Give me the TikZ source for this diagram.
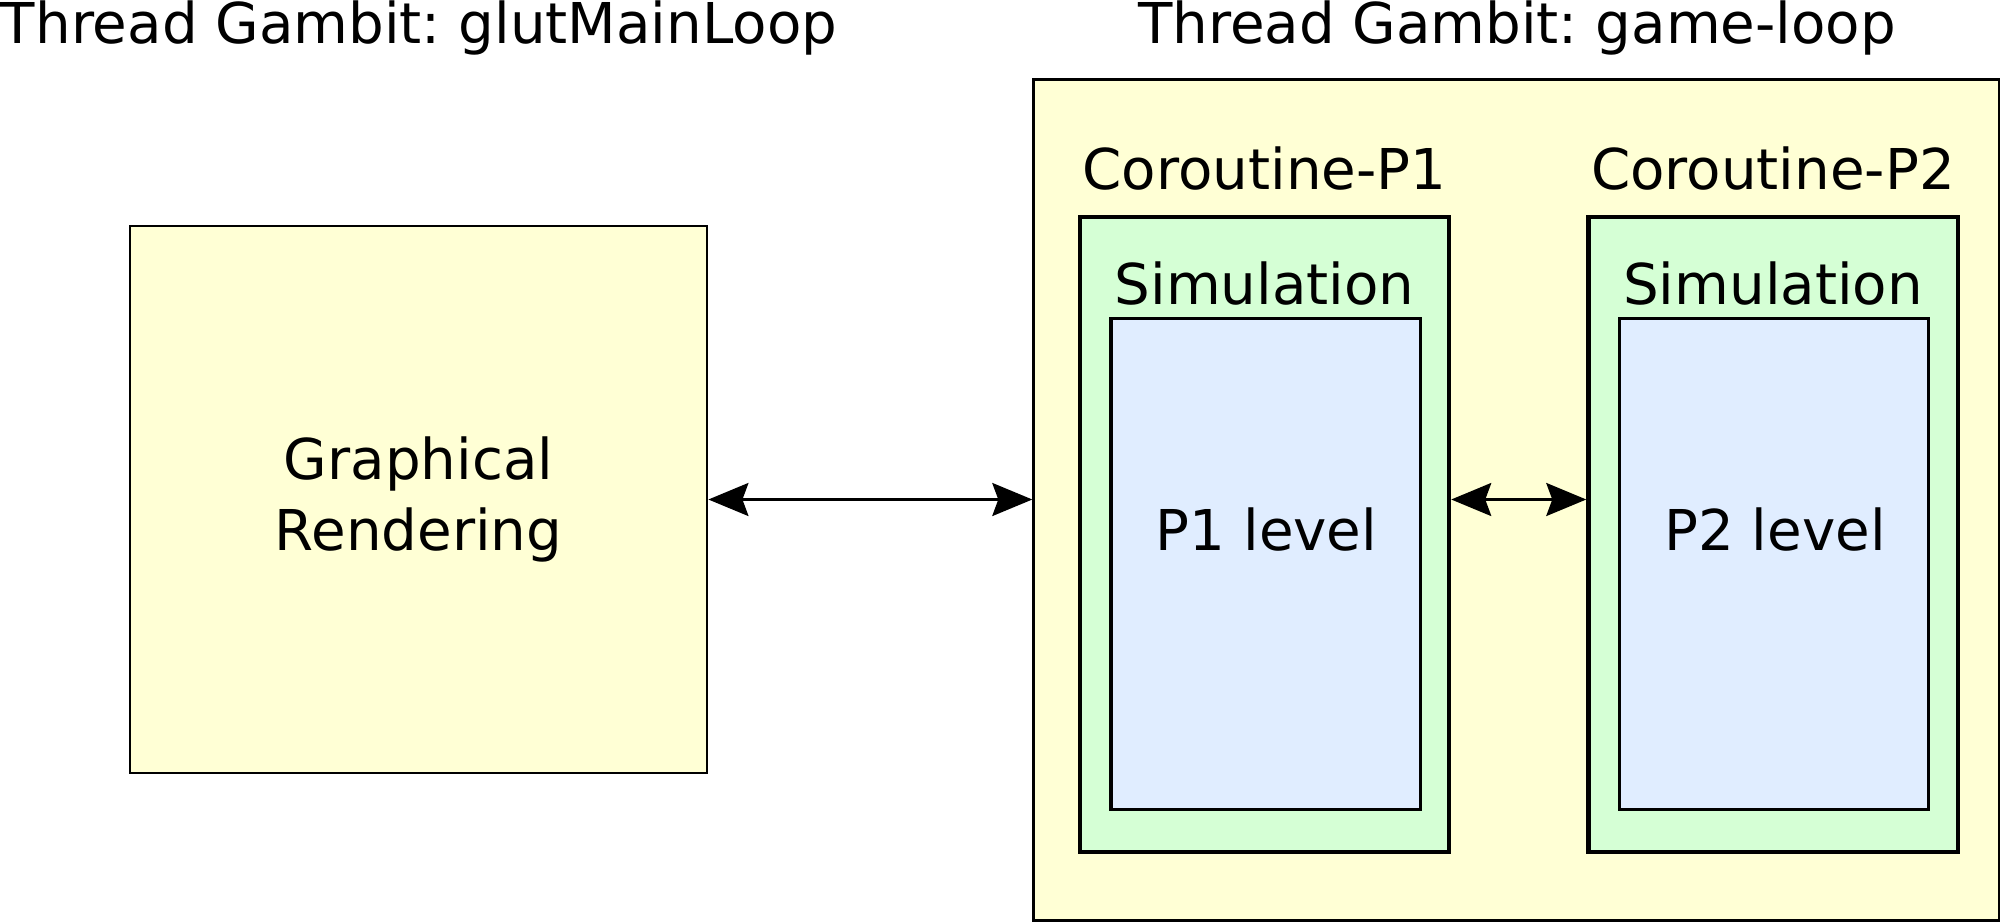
\documentclass[tikz,border=0pt]{standalone}
\usepackage{fontspec}
\setmainfont{DejaVu Sans}
\usetikzlibrary{arrows.meta}
\definecolor{paleyellow}{HTML}{FFFFD5}
\definecolor{palegreen}{HTML}{D5FFD5}
\definecolor{paleblue}{HTML}{E0EDFF}
\frenchspacing

\begin{document}
\begin{tikzpicture}[x=0.01cm,y=-0.01cm,line join=miter,
  font=\fontsize{16.0}{20}\selectfont,
  box/.style={draw=black,rectangle,inner sep=0pt},
  lbl/.style={anchor=base,inner sep=0pt},
  link/.style={line width=0.75pt,
    {Stealth[length=4mm,width=3.3mm,inset=0.6mm]}-{Stealth[length=4mm,width=3.3mm,inset=0.6mm]}}]
  \useasboundingbox (0,0) rectangle (2000,921);

  % Thread titles.
  \node[lbl] (titleglut) at (419,43) {Thread Gambit: glutMainLoop};
  \node[lbl] (titlegame) at (1517,43) {Thread Gambit: game-loop};

  % Rendering thread.
  \node[box,fill=paleyellow,line width=0.7pt,align=center,
    minimum width=5.77cm,minimum height=5.47cm] (render) at (418.5,499.5)
    {Graphical\\Rendering};

  % Game-loop thread with its two coroutines.
  \node[box,fill=paleyellow,line width=0.8pt,
    minimum width=9.65cm,minimum height=8.4cm] (game) at (1516.5,500) {};
  \foreach \i/\x in {1/1264.5,2/1773}{
    \node[lbl] (coro\i) at (\x,189) {Coroutine-P\i};
    \node[box,fill=palegreen,line width=1.2pt,
      minimum width=3.69cm,minimum height=6.35cm] (sim\i) at (\x,534.5) {};
    \node[lbl] (simtext\i) at (\x,304) {Simulation};
    \node[box,fill=paleblue,line width=0.9pt,
      minimum width=3.09cm,minimum height=4.9cm] (level\i) at (\x+1,564) {};
    \node[lbl] (leveltext\i) at (\x+2,550) {P\i{} level};
  }

  % Links.
  \draw[link] (render.east) -- (render.east -| game.west);
  \draw[link] (sim1.east |- render.east) -- (sim2.west |- render.east);
\end{tikzpicture}
\end{document}
